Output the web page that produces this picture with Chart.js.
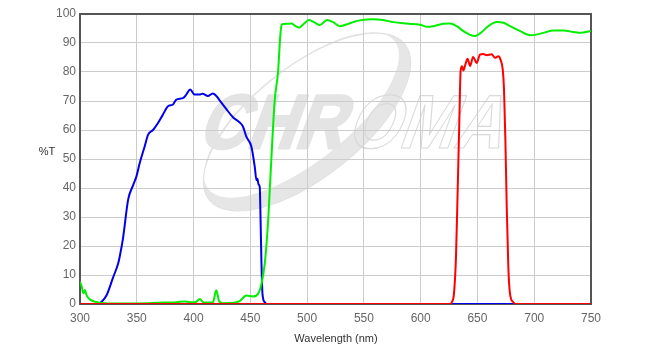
<!DOCTYPE html>
<html>
<head>
<meta charset="utf-8">
<style>
html,body{margin:0;padding:0;background:#fff;}
canvas{display:block;}
</style>
<script src="https://cdn.jsdelivr.net/npm/chart.js@4/dist/chart.umd.min.js"></script>
</head>
<body>
<canvas id="c" width="652" height="354"></canvas>
<script>
// ---- data (wavelength in nm, transmission in %) ----
const blueWl = [300,316,319,323.4,329,333.6,335,338,342.4,346.8,349.7,352.6,357,360,364.3,368.7,373,377.5,381.9,384.8,390.6,393.6,397,400.9,405.3,408,412.6,417,421,423,428.9,434.7,440.6,443.5,446.5,450.9,453.9,455.4,456.3,457.2,458.3,458.9,459.8,460.7,462.7,465,750];
const blueT  = [0,0,0.8,3,9,14,16.4,23,36,41,44,48.6,54.4,58.4,60,62.4,65.3,68.2,68.8,70.5,71,72.2,74,72.2,72.2,72.5,71.7,72.6,71.3,70.2,67.2,64.4,62.6,61.2,57.7,54.3,47.3,42.7,43.2,41.2,40.4,31.2,14,3.5,0.6,0,0];

const greenWl = [300,301.5,303,304.4,305.8,308.8,313,317.5,325,340,360,375,385,392,397,402,405.5,409,417,420,422.5,426,435,440.6,446.5,452.4,456.8,459.8,462.7,465.7,468.6,471.5,474.4,476.3,477.5,481.8,486.2,489.2,493,496.5,501.8,506.8,511.2,517.6,522.9,528.8,534.7,540.6,546.4,558.2,567,575.8,587.6,599.4,605.2,611.1,619.9,625.8,631.7,637.6,643.5,647.9,652.3,659.6,667,672.9,678.8,687.6,696.4,700.8,708.2,717,725.8,734.6,740.5,750];
const greenT  = [7.7,6,3.7,4.8,3,1.6,0.8,0.4,0.2,0.2,0.3,0.5,0.6,0.9,0.6,0.7,1.7,0.5,0.5,4.7,1.0,0.3,0.4,1.0,2.9,2.6,3.5,7,13.9,28.9,50.8,70.4,80,92,96.4,96.6,96.7,96,95.3,96.4,97.9,97,96.2,97.9,97.2,95.8,96.4,97.2,97.8,98.2,97.9,97.2,96.7,96.3,95.6,95.8,96.6,96.7,95.8,94.1,92.8,92.4,93.3,95.8,97.2,97,95.8,94.1,92.7,92.8,93.5,94.3,94.3,93.8,93.5,94.1];

const redWl = [300,626,627.3,629.3,631.1,632.6,634,635.2,636.5,637.6,639.3,641.3,643.5,646.2,649.3,652.2,655.2,658.1,662.5,665.4,668.4,670.4,672.3,673.4,674.6,675.8,677.2,678.7,681.6,684,750];
const redT  = [0,0,0.6,3.5,16.2,39.3,62.3,80.5,82,80.5,82.5,84.6,82.1,85.2,83.1,86,86.2,85.8,86.1,84.9,85.4,84.2,80.8,73.9,56.6,33.5,12.7,3.5,0.6,0,0];

const xMin = 300, xMax = 750, xStep = 50;
const yMin = 0, yMax = 100, yStep = 10;
const xTitle = 'Wavelength (nm)';
const yTitle = '%T';

function pts(xs, ys){ return xs.map((x,i)=>({x:x, y:ys[i]})); }

const watermark = {
  id:'watermark',
  beforeDraw(chart){
    const ctx = chart.ctx;
    ctx.save();
    // swoosh (crescent)
    const cx=307, cy=122, rot=-38.5*Math.PI/180;
    ctx.fillStyle='#e6e6e6';
    ctx.beginPath();
    ctx.ellipse(cx,cy,125,55,rot,0,Math.PI*2);
    ctx.ellipse(cx-5.6,cy-7,119,47,rot,0,Math.PI*2);
    ctx.fill('evenodd');
    ctx.strokeStyle='#e2e2e2';
    ctx.lineWidth=1.2;
    ctx.beginPath();
    ctx.ellipse(cx,cy,125,55,rot,0,Math.PI*2);
    ctx.stroke();
    // text
    ctx.font='bold 76px "Liberation Sans", Arial, sans-serif';
    ctx.textBaseline='alphabetic';
    const w1 = ctx.measureText('CHR').width;
    const wAll = ctx.measureText('CHROMA').width;
    const sx = 300 / wAll;
    ctx.translate(197,148);
    ctx.transform(1,0,-0.36,1,0,0);
    ctx.scale(sx,1);
    ctx.fillStyle='#e4e4e4';
    ctx.strokeStyle='#e4e4e4';
    ctx.lineWidth=3;
    ctx.lineJoin='round';
    ctx.fillText('CHR',0,0);
    ctx.strokeText('CHR',0,0);
    ctx.strokeStyle='#d9d9d9';
    ctx.lineWidth=1.2;
    ctx.strokeText('OMA',w1+4,0);
    ctx.restore();
  }
};

const frame = {
  id:'frame',
  beforeDatasetsDraw(chart){
    const a = chart.chartArea, ctx = chart.ctx;
    ctx.save();
    ctx.strokeStyle='#555555';
    ctx.lineWidth=2;
    ctx.strokeRect(a.left, a.top, a.right-a.left, a.bottom-a.top);
    ctx.restore();
  },
  afterDraw(chart){
    const a = chart.chartArea, ctx = chart.ctx;
    ctx.save();
    ctx.fillStyle='#333333';
    ctx.font='11px "Liberation Sans", Arial, sans-serif';
    ctx.textAlign='center';
    ctx.textBaseline='middle';
    ctx.fillText(yTitle, 47, 152);
    ctx.fillText(xTitle, (a.left+a.right)/2 + 0.5, 339);
    ctx.restore();
  }
};

new Chart(document.getElementById('c'), {
  type:'line',
  data:{
    datasets:[
      {data:pts(redWl,redT), borderColor:'#ff0000'},
      {data:pts(greenWl,greenT), borderColor:'#00ee00'},
      {data:pts(blueWl,blueT), borderColor:'#0000ee'}
    ]
  },
  options:{
    responsive:false,
    animation:false,
    events:[],
    layout:{padding:{top:14,right:61,left:0,bottom:0}},
    elements:{
      point:{radius:0},
      line:{borderWidth:2, cubicInterpolationMode:'monotone', fill:false}
    },
    plugins:{legend:{display:false}, tooltip:{enabled:false}},
    scales:{
      x:{
        type:'linear', min:xMin, max:xMax,
        ticks:{stepSize:xStep, color:'#666', padding:7, font:{size:12, family:'"Liberation Sans", Arial, sans-serif'}, maxRotation:0},
        grid:{color:'#cccccc', drawTicks:false},
        border:{display:false},
        afterFit(s){ s.height = 50; }
      },
      y:{
        type:'linear', min:yMin, max:yMax,
        ticks:{stepSize:yStep, color:'#666', padding:4, font:{size:12, family:'"Liberation Sans", Arial, sans-serif'}},
        grid:{color:'#cccccc', drawTicks:false},
        border:{display:false},
        afterFit(s){ s.width = 80; }
      }
    }
  },
  plugins:[watermark, frame]
});
</script>
</body>
</html>
